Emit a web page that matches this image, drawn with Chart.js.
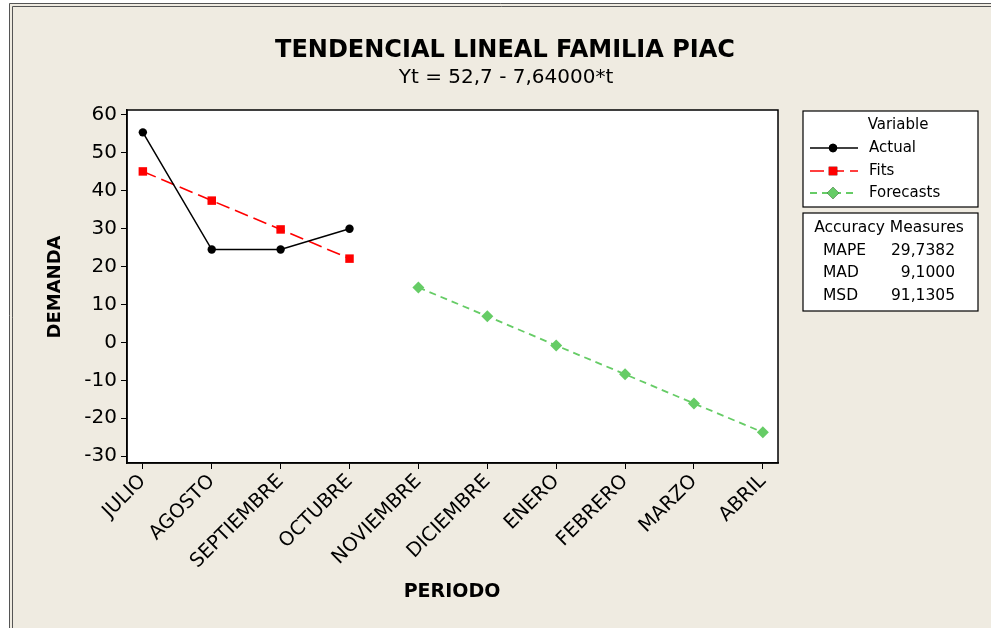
<!DOCTYPE html>
<html>
<head>
<meta charset="utf-8">
<script src="https://cdn.jsdelivr.net/npm/chart.js@4.4.1/dist/chart.umd.min.js"></script>
<style>
html,body{margin:0;padding:0;background:#fff;}
canvas{display:block;}
</style>
</head>
<body>
<canvas id="c" width="991" height="628"></canvas>
<script>
// ---- data ----
const periods = ["JULIO","AGOSTO","SEPTIEMBRE","OCTUBRE","NOVIEMBRE","DICIEMBRE","ENERO","FEBRERO","MARZO","ABRIL"];
const actualValues = [55.4, 24.5, 24.5, 30.0];
const fitValues = [45.1, 37.4, 29.8, 22.1];
const forecastValues = [14.5, 6.9, -0.8, -8.4, -16.1, -23.7];
const forecastStart = 4;
const yTicks = [-30, -20, -10, 0, 10, 20, 30, 40, 50, 60];
const accuracyNames = ["MAPE", "MAD", "MSD"];
const accuracyValues = ["29,7382", "9,1000", "91,1305"];
const titleText = "TENDENCIAL LINEAL FAMILIA PIAC";
const subtitleText = "Yt = 52,7 - 7,64000*t";

const FONT = "'DejaVu Sans', Verdana, sans-serif";
const BG = "#efebe1";
const GREEN = "#66cc66";

const toXY = (arr, start) => arr.map((v, i) => ({x: start + i, y: v}));

const decor = {
  id: 'decor',
  beforeDraw(chart) {
    const ctx = chart.ctx, a = chart.chartArea;
    ctx.save();
    ctx.fillStyle = '#ffffff';
    ctx.fillRect(0, 0, chart.width, chart.height);
    ctx.fillStyle = BG;
    ctx.fillRect(9, 3, chart.width - 9, chart.height - 3);
    ctx.strokeStyle = '#555';
    ctx.lineWidth = 1;
    ctx.beginPath();
    ctx.moveTo(9.5, chart.height); ctx.lineTo(9.5, 3.5); ctx.lineTo(chart.width, 3.5);
    ctx.moveTo(12.5, chart.height); ctx.lineTo(12.5, 6.5); ctx.lineTo(chart.width, 6.5);
    ctx.stroke();
    ctx.fillStyle = '#ffffff';
    ctx.fillRect(a.left, a.top, a.right - a.left, a.bottom - a.top);
    ctx.restore();
  },
  afterDraw(chart) {
    const ctx = chart.ctx, a = chart.chartArea;
    ctx.save();
    // plot box
    ctx.strokeStyle = '#000';
    ctx.lineWidth = 1.5;
    ctx.strokeRect(a.left, a.top, a.right - a.left, a.bottom - a.top);
    // titles
    ctx.fillStyle = '#000';
    ctx.textAlign = 'center';
    ctx.textBaseline = 'middle';
    ctx.font = "bold 24px " + FONT;
    ctx.fillText(titleText, 505, 51);
    ctx.font = "20px " + FONT;
    ctx.fillText(subtitleText, 506, 78);
    ctx.font = "bold 19px " + FONT;
    ctx.fillText("PERIODO", 452, 592);
    ctx.save();
    ctx.translate(55, 287);
    ctx.rotate(-Math.PI / 2);
    ctx.font = "bold 18px " + FONT;
    ctx.fillText("DEMANDA", 0, 0);
    ctx.restore();
    // legend box
    ctx.lineWidth = 1.2;
    ctx.strokeStyle = '#000';
    ctx.fillStyle = '#fff';
    ctx.fillRect(803, 111, 175, 96);
    ctx.strokeRect(803, 111, 175, 96);
    ctx.fillRect(803, 213, 175, 98);
    ctx.strokeRect(803, 213, 175, 98);
    ctx.fillStyle = '#000';
    ctx.font = "15px " + FONT;
    ctx.textAlign = 'center';
    ctx.fillText("Variable", 898, 125);
    ctx.textAlign = 'left';
    const ds = chart.data.datasets;
    const rows = [148, 171, 193];
    ds.forEach((d, i) => {
      const y = rows[i];
      ctx.save();
      ctx.strokeStyle = d.borderColor;
      ctx.lineWidth = d.borderWidth;
      ctx.setLineDash(d.borderDash || []);
      ctx.beginPath();
      ctx.moveTo(810, y); ctx.lineTo(858, y);
      ctx.stroke();
      ctx.restore();
      Chart.helpers.drawPoint(ctx, {pointStyle: d.pointStyle, radius: d.pointRadius, borderWidth: 0, rotation: 0}, 833, y);
      ctx.fillStyle = d.pointBackgroundColor;
      ctx.fill();
      ctx.fillStyle = '#000';
      ctx.fillText(d.label, 869, y);
    });
    ctx.font = "15.5px " + FONT;
    ctx.textAlign = 'center';
    ctx.fillText("Accuracy Measures", 889, 228);
    const arows = [251, 273, 296];
    accuracyNames.forEach((n, i) => {
      ctx.textAlign = 'left';
      ctx.fillText(n, 823, arows[i]);
      ctx.textAlign = 'right';
      ctx.fillText(accuracyValues[i], 955, arows[i]);
    });
    ctx.restore();
  }
};

new Chart(document.getElementById('c'), {
  type: 'line',
  data: {
    datasets: [
      {
        label: 'Actual',
        data: toXY(actualValues, 0),
        borderColor: '#000',
        backgroundColor: '#000',
        pointBackgroundColor: '#000',
        pointBorderColor: '#000',
        borderWidth: 1.5,
        pointStyle: 'circle',
        pointRadius: 4.2,
        pointBorderWidth: 0,
        tension: 0
      },
      {
        label: 'Fits',
        data: toXY(fitValues, 0),
        borderColor: '#ff0000',
        backgroundColor: '#ff0000',
        pointBackgroundColor: '#ff0000',
        pointBorderColor: '#ff0000',
        borderWidth: 1.6,
        borderDash: [14, 6],
        pointStyle: 'rect',
        pointRadius: 6,
        pointBorderWidth: 0,
        tension: 0
      },
      {
        label: 'Forecasts',
        data: toXY(forecastValues, forecastStart),
        borderColor: GREEN,
        backgroundColor: GREEN,
        pointBackgroundColor: GREEN,
        pointBorderColor: GREEN,
        borderWidth: 1.8,
        borderDash: [7, 5],
        pointStyle: 'rectRot',
        pointRadius: 6,
        pointBorderWidth: 0,
        tension: 0
      }
    ]
  },
  options: {
    responsive: false,
    animation: false,
    devicePixelRatio: 1,
    layout: {padding: {left: 0, top: 110, right: 213, bottom: 0}},
    plugins: {legend: {display: false}, title: {display: false}, tooltip: {enabled: false}},
    scales: {
      x: {
        type: 'linear',
        min: -0.23,
        max: 9.22,
        afterFit(s) { s.height = 165; },
        grid: {drawOnChartArea: false, drawTicks: true, tickLength: 6, color: '#000', lineWidth: 1},
        border: {display: true, color: '#000', width: 1.5},
        ticks: {
          stepSize: 1,
          includeBounds: false,
          autoSkip: false,
          minRotation: 45,
          maxRotation: 45,
          padding: 1,
          color: '#000',
          font: {family: FONT, size: 19.5},
          callback: (v) => Number.isInteger(v) && periods[v] !== undefined ? periods[v] : null
        }
      },
      y: {
        type: 'linear',
        min: -31.8,
        max: 61.3,
        afterFit(s) { s.width = 127; },
        grid: {drawOnChartArea: false, drawTicks: true, tickLength: 6, color: '#000', lineWidth: 1},
        border: {display: true, color: '#000', width: 1.5},
        ticks: {
          stepSize: 10,
          includeBounds: false,
          padding: 4,
          color: '#000',
          font: {family: FONT, size: 20},
          callback: (v) => yTicks.includes(v) ? String(v) : null
        }
      }
    }
  },
  plugins: [decor]
});
</script>
</body>
</html>
